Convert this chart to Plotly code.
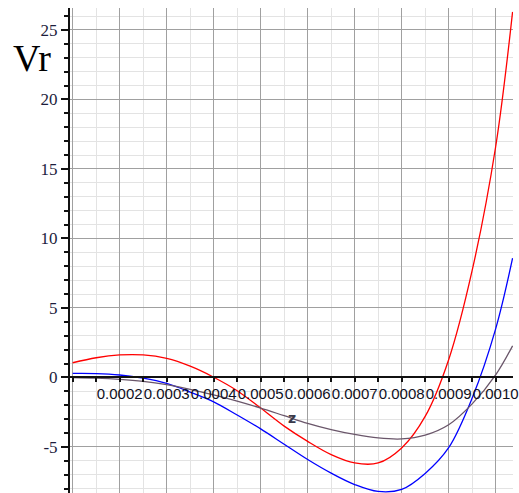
import plotly.graph_objects as go

# Data
x_vals = [0.0001, 0.00015, 0.0002, 0.00025, 0.0003, 0.00035, 0.0004, 0.00045,
          0.0005, 0.00055, 0.0006, 0.00065, 0.0007, 0.00075, 0.0008, 0.00085,
          0.0009, 0.00095, 0.001, 0.001036]

red_vals = [1.06, 1.42, 1.62, 1.62, 1.37, 0.81, 0.02, -0.95,
            -2.2, -3.5, -4.6, -5.55, -6.15, -6.15, -5.07, -2.8,
            1.28, 7.7, 16.6, 26.3]

blue_vals = [0.29, 0.28, 0.18, -0.05, -0.43, -1.05, -1.75, -2.7,
             -3.7, -4.8, -5.9, -6.88, -7.7, -8.2, -8.05, -6.9,
             -5.05, -1.48, 3.5, 8.58]

dark_vals = [0.0, -0.04, -0.13, -0.28, -0.52, -0.85, -1.25, -1.7,
             -2.2, -2.75, -3.3, -3.75, -4.1, -4.35, -4.42, -4.15,
             -3.4, -1.9, 0.19, 2.28]

x_tickvals = [0.0001, 0.0002, 0.0003, 0.0004, 0.0005, 0.0006, 0.0007, 0.0008, 0.0009, 0.0010]
x_ticktext = ["", "0.0002", "0.0003", "0.0004", "0.0005", "0.0006", "0.0007", "0.0008", "0.0009", "0.0010"]
y_tickvals = [-5, 0, 5, 10, 15, 20, 25]
y_ticktext = ["-5", "0", "5", "10", "15", "20", "25"]

x_range = [0.0000943, 0.0010369]
y_range = [-8.31, 26.58]

fig = go.Figure()
for vals, col in [(red_vals, "#ff0000"), (blue_vals, "#0000ff"), (dark_vals, "#6a566a")]:
    fig.add_trace(go.Scatter(x=x_vals, y=vals, mode="lines",
                             line=dict(color=col, width=1.3, shape="spline", smoothing=1),
                             showlegend=False, hoverinfo="skip"))

x_axis_pos = (0 - y_range[0]) / (y_range[1] - y_range[0])

fig.update_layout(
    width=519, height=493,
    margin=dict(l=70, r=6, t=8, b=0, autoexpand=False),
    paper_bgcolor="white", plot_bgcolor="white",
    xaxis=dict(
        range=x_range, tickmode="array", tickvals=x_tickvals, ticktext=x_ticktext,
        automargin=False, tickangle=0,
        showgrid=True, gridcolor="#a0a0a0", gridwidth=1,
        zeroline=False, showline=True, linecolor="#111111", linewidth=1.5,
        anchor="free", position=x_axis_pos,
        ticks="outside", ticklen=4, tickcolor="#111111", tickwidth=1.5,
        ticklabelstandoff=-1,
        tickfont=dict(family="Liberation Sans", size=15, color="#10101e"),
        minor=dict(dtick=0.00005, tick0=0, showgrid=True, gridcolor="#e3e3e3",
                   gridwidth=1, ticks="outside", ticklen=4, tickcolor="#111111", tickwidth=1.5),
    ),
    yaxis=dict(
        range=y_range, tickmode="array", tickvals=y_tickvals, ticktext=y_ticktext,
        automargin=False,
        showgrid=True, gridcolor="#a0a0a0", gridwidth=1,
        zeroline=False, showline=True, linecolor="#111111", linewidth=2,
        ticks="outside", ticklen=7, tickcolor="#111111", tickwidth=1.5,
        tickfont=dict(family="Liberation Serif", size=17, color="#1c1c3c"),
        minor=dict(dtick=1, tick0=0, showgrid=True, gridcolor="#e3e3e3",
                   gridwidth=1, ticks="outside", ticklen=4, tickcolor="#111111", tickwidth=1.5),
    ),
    annotations=[
        dict(text="Vr", xref="paper", yref="paper", x=-0.0858, y=0.897,
             xanchor="center", yanchor="middle", showarrow=False,
             font=dict(family="Liberation Serif", size=38, color="#000000")),
        dict(text="<b>z</b>", xref="x", yref="y", x=0.000567, y=-2.9,
             xanchor="center", yanchor="middle", showarrow=False,
             font=dict(family="DejaVu Sans", size=14, color="#3a3a4a")),
    ],
)

fig.write_html("out.html", config={"displayModeBar": False},
               post_script="document.body.style.margin='0';document.body.style.padding='0';")
